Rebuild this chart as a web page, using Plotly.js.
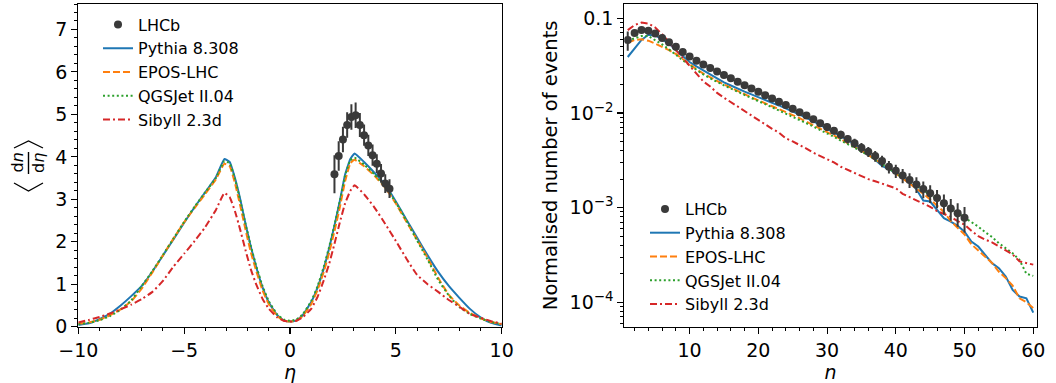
<!DOCTYPE html>
<html>
<head>
<meta charset="utf-8">
<script src="https://cdn.plot.ly/plotly-3.0.1.min.js"></script>
<style>html,body{margin:0;padding:0;background:#fff;}#chart{width:1056px;height:383px;}</style>
</head>
<body>
<div id="chart"></div>
<script>
// ---------------- Left panel: <dn/deta> vs eta ----------------
const etaGrid = [-10,-9.5,-9,-8.5,-8,-7.5,-7,-6.5,-6,-5.5,-5,-4.5,-4,-3.5,-3.1,-2.85,-2.6,-2.35,-2.1,-1.85,-1.6,-1.3,-1,-0.6,-0.3,0,0.3,0.6,1,1.3,1.6,1.85,2.1,2.35,2.6,2.85,3.05,3.5,4,4.5,5,5.5,6,6.5,7,7.5,8,8.5,9,9.5,10];
const pythiaEta = [0.04,0.08,0.18,0.31,0.50,0.72,0.96,1.30,1.68,2.06,2.45,2.82,3.17,3.52,3.95,3.88,3.50,3.00,2.42,1.88,1.41,0.93,0.57,0.27,0.15,0.12,0.15,0.27,0.58,0.92,1.38,1.85,2.38,2.95,3.58,3.95,4.08,3.88,3.62,3.34,2.95,2.52,2.10,1.68,1.29,0.96,0.68,0.42,0.22,0.09,0.03];
const eposEta   = [0.07,0.10,0.16,0.27,0.41,0.60,0.90,1.28,1.68,2.08,2.46,2.80,3.13,3.47,3.84,3.78,3.38,2.85,2.28,1.75,1.32,0.86,0.53,0.25,0.14,0.12,0.14,0.25,0.53,0.86,1.30,1.74,2.25,2.80,3.42,3.85,3.93,3.78,3.55,3.27,2.90,2.47,2.05,1.62,1.15,0.75,0.50,0.32,0.20,0.11,0.06];
const qgsjetEta = [0.06,0.09,0.15,0.25,0.40,0.62,0.96,1.31,1.69,2.08,2.47,2.83,3.17,3.50,3.90,3.85,3.48,2.97,2.42,1.90,1.44,0.96,0.60,0.29,0.17,0.14,0.17,0.29,0.60,0.95,1.42,1.88,2.40,2.95,3.55,3.92,3.98,3.82,3.58,3.30,2.92,2.50,2.03,1.58,1.10,0.74,0.46,0.30,0.19,0.11,0.06];
const sibyllEta = [0.10,0.16,0.23,0.31,0.41,0.52,0.65,0.82,1.08,1.42,1.72,2.02,2.35,2.75,3.15,3.05,2.72,2.28,1.80,1.35,1.00,0.66,0.42,0.22,0.14,0.12,0.14,0.22,0.42,0.70,1.10,1.48,1.95,2.45,2.90,3.20,3.33,3.12,2.80,2.42,2.02,1.60,1.22,1.00,0.82,0.63,0.47,0.30,0.21,0.13,0.07];
const lhcbEta    = [2.1,2.3,2.5,2.7,2.9,3.1,3.3,3.5,3.7,3.9,4.1,4.3,4.5,4.7];
const lhcbDndeta = [3.59,4.02,4.41,4.75,4.94,4.98,4.75,4.51,4.27,4.04,3.84,3.61,3.37,3.25];
const lhcbDndetaErr = [0.45,0.35,0.30,0.30,0.30,0.30,0.28,0.25,0.25,0.25,0.22,0.22,0.22,0.22];
const lhcbEtaHalfBin = [0.1,0.1,0.1,0.1,0.1,0.1,0.1,0.1,0.1,0.1,0.1,0.1,0.1,0.1];

// ---------------- Right panel: multiplicity distribution ----------------
const nModel = [1,2,3,4,5,6,7,8,9,10,11,12,13,14,15,16,17,18,19,20,21,22,23,24,25,26,27,28,29,30,31,32,33,34,35,36,37,38,39,40,41,42,43,44,45,46,47,48,49,50,51,52,53,54,55,56,57,58,59,60];
const pythiaN = [0.039,0.048,0.059,0.067,0.066,0.060,0.054,0.046,0.040,0.0345,0.031,0.028,0.0255,0.023,0.021,0.0195,0.018,0.0168,0.0157,0.0146,0.0137,0.0128,0.0120,0.0112,0.0104,0.0096,0.0089,0.0082,0.0075,0.0068,0.0062,0.0057,0.0052,0.0047,0.0042,0.0037,0.0032,0.00275,0.00254,0.00234,0.00208,0.00184,0.00156,0.00119,0.00116,0.000945,0.000773,0.000712,0.000641,0.000558,0.000438,0.000388,0.000317,0.000259,0.000229,0.000187,0.000135,0.000115,0.000110,0.0000778];
const eposN = [0.055,0.059,0.060,0.058,0.054,0.050,0.046,0.042,0.037,0.033,0.029,0.026,0.0237,0.0217,0.020,0.0185,0.017,0.0158,0.0146,0.0136,0.0127,0.0118,0.0110,0.0102,0.0095,0.0088,0.0081,0.0075,0.0069,0.0063,0.0058,0.0053,0.0048,0.0044,0.0040,0.0036,0.0032,0.0029,0.0026,0.0023,0.00205,0.0018,0.0016,0.0014,0.00122,0.00105,0.00090,0.00072,0.00061,0.00052,0.00041,0.00035,0.00030,0.00026,0.00021,0.00018,0.00015,0.00011,0.000100,0.000087];
const qgsjetN = [0.058,0.062,0.065,0.065,0.059,0.053,0.047,0.041,0.036,0.032,0.0285,0.0255,0.0232,0.0212,0.0196,0.0181,0.0167,0.0155,0.0143,0.0133,0.0124,0.0115,0.0106,0.0098,0.0091,0.0085,0.0078,0.0072,0.0066,0.0061,0.0056,0.0051,0.0047,0.0043,0.0039,0.0036,0.0032,0.0029,0.0026,0.0023,0.0021,0.0019,0.0017,0.00152,0.00136,0.00122,0.00110,0.00098,0.00088,0.00078,0.00070,0.00063,0.00055,0.00049,0.00042,0.00037,0.00033,0.00028,0.00020,0.00019];
const sibyllN = [0.075,0.085,0.090,0.088,0.080,0.068,0.056,0.046,0.038,0.031,0.026,0.0215,0.019,0.0163,0.0145,0.0130,0.0117,0.0105,0.0094,0.0085,0.0077,0.0068,0.0062,0.0054,0.0050,0.0046,0.0042,0.0038,0.0035,0.0032,0.0030,0.0027,0.0025,0.0023,0.00215,0.0020,0.0019,0.0018,0.00168,0.0016,0.0014,0.0013,0.0012,0.0011,0.00102,0.00092,0.00086,0.00080,0.00072,0.00066,0.00057,0.00050,0.00046,0.00043,0.00039,0.00035,0.00032,0.00027,0.00026,0.00025];
const nData = [1,2,3,4,5,6,7,8,9,10,11,12,13,14,15,16,17,18,19,20,21,22,23,24,25,26,27,28,29,30,31,32,33,34,35,36,37,38,39,40,41,42,43,44,45,46,47,48,49,50];
const lhcbN = [0.059,0.070,0.075,0.074,0.069,0.062,0.056,0.050,0.044,0.0395,0.0356,0.0325,0.0298,0.0274,0.0252,0.0232,0.0213,0.0196,0.0181,0.0167,0.0154,0.0142,0.0131,0.0121,0.0111,0.0102,0.0094,0.0086,0.0078,0.0071,0.0065,0.0059,0.0053,0.0048,0.0043,0.0039,0.0035,0.0031,0.0027,0.00245,0.00218,0.00196,0.00176,0.00157,0.00142,0.00126,0.00111,0.00098,0.00087,0.00078];
const lhcbNRelErr = [0.23,0.06,0.05,0.04,0.04,0.04,0.04,0.04,0.04,0.04,0.04,0.04,0.04,0.04,0.04,0.04,0.05,0.05,0.05,0.05,0.05,0.05,0.06,0.06,0.06,0.07,0.07,0.08,0.08,0.09,0.09,0.10,0.10,0.11,0.12,0.12,0.13,0.14,0.15,0.16,0.17,0.18,0.19,0.20,0.21,0.22,0.24,0.26,0.28,0.30];
const logTickVals = [0.1,0.01,0.001,0.0001];
const logTickText = ['0.1','10<sup>−2</sup>','10<sup>−3</sup>','10<sup>−4</sup>'];

// ---------------- styling ----------------
const W = 1056, H = 383;
const PX = v => v / W, PY = v => 1 - v / H;
const FONT = 'DejaVu Sans';
const DATA_COL = '#3a3a3a';
const C = {pythia:'#1f77b4', epos:'#ff7f0e', qgs:'#2ca02c', sib:'#d62728'};
const LW = 2;
const DASH = {epos:'7px,3px', qgs:'2px,2.6px', sib:'7px,3px,2px,3px'};

function model(x, y, name, col, dash, xa, ya, leg, rank, smooth) {
  const line = {color:col, width:LW, dash:dash};
  if (smooth) { line.shape = 'spline'; line.smoothing = 0.35; }
  return {x, y, name, type:'scatter', mode:'lines', xaxis:xa, yaxis:ya, legend:leg, legendrank:rank, line};
}
const lhcbNErr = lhcbN.map((v,i) => v * lhcbNRelErr[i]);

const traces = [
  model(etaGrid, pythiaEta, 'Pythia 8.308', C.pythia, 'solid', 'x', 'y', 'legend', 2, true),
  model(etaGrid, eposEta, 'EPOS-LHC', C.epos, DASH.epos, 'x', 'y', 'legend', 3, true),
  model(etaGrid, qgsjetEta, 'QGSJet II.04', C.qgs, DASH.qgs, 'x', 'y', 'legend', 4, true),
  model(etaGrid, sibyllEta, 'Sibyll 2.3d', C.sib, DASH.sib, 'x', 'y', 'legend', 5, true),
  {x: lhcbEta, y: lhcbDndeta, name:'LHCb', type:'scatter', mode:'markers', xaxis:'x', yaxis:'y', legend:'legend', legendrank:1,
   marker:{color:DATA_COL, size:8},
   error_y:{type:'data', array:lhcbDndetaErr, visible:true, color:DATA_COL, thickness:2, width:0},
   error_x:{type:'data', array:lhcbEtaHalfBin, visible:true, color:DATA_COL, thickness:2, width:0}},

  model(nModel, pythiaN, 'Pythia 8.308', C.pythia, 'solid', 'x2', 'y2', 'legend2', 2, false),
  model(nModel, eposN, 'EPOS-LHC', C.epos, DASH.epos, 'x2', 'y2', 'legend2', 3, false),
  model(nModel, qgsjetN, 'QGSJet II.04', C.qgs, DASH.qgs, 'x2', 'y2', 'legend2', 4, false),
  model(nModel, sibyllN, 'Sibyll 2.3d', C.sib, DASH.sib, 'x2', 'y2', 'legend2', 5, false),
  {x: nData, y: lhcbN, name:'LHCb', type:'scatter', mode:'markers', xaxis:'x2', yaxis:'y2', legend:'legend2', legendrank:1,
   marker:{color:DATA_COL, size:8},
   error_y:{type:'data', array:lhcbNErr, visible:true, color:DATA_COL, thickness:2, width:0}}
];

const tickFont = {family:FONT, size:19, color:'#000'};
const axisCommon = {
  showgrid:false, zeroline:false, showline:true, linecolor:'#000', linewidth:1.1, mirror:true,
  ticks:'outside', ticklen:6, tickwidth:1.1, tickcolor:'#000', tickfont:tickFont, automargin:false,
  fixedrange:true
};
const minorCommon = {ticks:'outside', ticklen:3.5, tickwidth:1, tickcolor:'#000', showgrid:false};

const yDom = [PY(326.7), PY(4)];
const layout = {
  width:W, height:H, margin:{l:0, r:0, t:0, b:0},
  paper_bgcolor:'#fff', plot_bgcolor:'#fff',
  font:{family:FONT, color:'#000'},
  showlegend:true,
  xaxis: Object.assign({}, axisCommon, {
    domain:[PX(78.3), PX(501.7)], range:[-10,10], tickmode:'linear', tick0:0, dtick:5,
    minor:Object.assign({dtick:1, tick0:0}, minorCommon),
    title:{text:'<i>η</i>', font:{family:FONT, size:19}, standoff:1}
  }),
  yaxis: Object.assign({}, axisCommon, {
    domain:yDom, range:[0,7.6], tickmode:'linear', tick0:0, dtick:1,
    minor:Object.assign({dtick:0.2, tick0:0}, minorCommon)
  }),
  xaxis2: Object.assign({}, axisCommon, {
    anchor:'y2', domain:[PX(624.3), PX(1036.7)], range:[0.5,60.5], tickmode:'linear', tick0:0, dtick:10,
    minor:Object.assign({dtick:2, tick0:0}, minorCommon),
    title:{text:'<i>n</i>', font:{family:FONT, size:19}, standoff:1}
  }),
  yaxis2: Object.assign({}, axisCommon, {
    anchor:'x2', domain:yDom, type:'log', range:[-4.258,-0.849],
    tickmode:'array', tickvals:logTickVals, ticktext:logTickText,
    minor:Object.assign({dtick:'D1'}, minorCommon),
    title:{text:'Normalised number of events', font:{family:FONT, size:19.5}, standoff:6}
  }),
  legend:{x:PX(98), y:PY(7.5), xanchor:'left', yanchor:'top', bgcolor:'rgba(0,0,0,0)', borderwidth:0,
          font:{family:FONT, size:16, color:'#000'}, traceorder:'normal'},
  legend2:{x:PX(645), y:PY(192), xanchor:'left', yanchor:'top', bgcolor:'rgba(0,0,0,0)', borderwidth:0,
          font:{family:FONT, size:16, color:'#000'}, traceorder:'normal'},
  annotations:[
    {xref:'paper', yref:'paper', x:PX(16.5), y:PY(163), text:'d<i>n</i>', showarrow:false, textangle:-90,
     font:{family:FONT, size:16, color:'#000'}, xanchor:'center', yanchor:'middle'},
    {xref:'paper', yref:'paper', x:PX(38), y:PY(163), text:'d<i>η</i>', showarrow:false, textangle:-90,
     font:{family:FONT, size:16, color:'#000'}, xanchor:'center', yanchor:'middle'}
  ],
  shapes:[
    {type:'line', xref:'paper', yref:'paper', x0:PX(28.5), x1:PX(28.5), y0:PY(152), y1:PY(174), line:{color:'#000', width:1.4}},
    {type:'path', xref:'paper', yref:'paper',
     path:`M ${PX(14)} ${PY(183)} L ${PX(28.5)} ${PY(191)} L ${PX(43)} ${PY(183)}`, line:{color:'#000', width:1.3}},
    {type:'path', xref:'paper', yref:'paper',
     path:`M ${PX(14)} ${PY(148)} L ${PX(28.5)} ${PY(141)} L ${PX(43)} ${PY(148)}`, line:{color:'#000', width:1.3}}
  ]
};

Plotly.newPlot('chart', traces, layout, {staticPlot:true, displayModeBar:false});
</script>
</body>
</html>
